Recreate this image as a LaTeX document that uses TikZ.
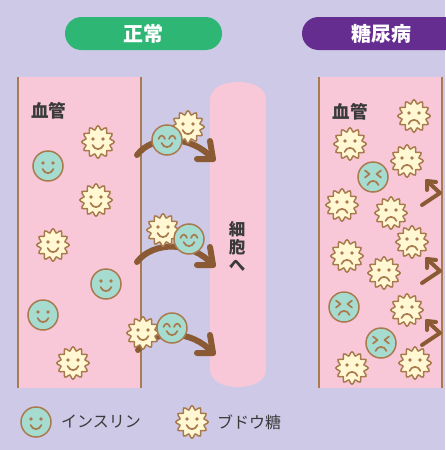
\documentclass[tikz,border=0pt]{standalone}
\usepackage{fontspec}
\newfontfamily\jpfont{Noto Sans CJK JP}
\usetikzlibrary{calc}

\definecolor{bgcol}{HTML}{CDC9E6}
\definecolor{vesselpink}{HTML}{F8C8D8}
\definecolor{wallbrown}{HTML}{A97C50}
\definecolor{arrowbrown}{HTML}{8A5A34}
\definecolor{okgreen}{HTML}{2DB674}
\definecolor{dmpurple}{HTML}{662D91}
\definecolor{insfill}{HTML}{A6DBD0}
\definecolor{sugfill}{HTML}{FFF8D2}
\definecolor{edgebrown}{HTML}{A97A4E}
\definecolor{inkgray}{HTML}{3A3A3A}

\tikzset{
  pill/.style={rounded corners=16.5pt, minimum height=33pt, inner sep=0pt,
    text=white, font=\jpfont\bfseries\fontsize{20}{22}\selectfont},
  label/.style={inner sep=0pt, text=inkgray, font=\jpfont\bfseries\fontsize{17.5}{19}\selectfont},
  legendtext/.style={inner sep=0pt, anchor=west, text=inkgray, font=\jpfont\fontsize{16}{18}\selectfont},
  wall/.style={draw=wallbrown, line width=2.2pt},
  flow/.style={draw=arrowbrown, line width=6pt, line cap=round, line join=round},
  bounce/.style={draw=arrowbrown, line width=4pt, line cap=round, line join=round},
  outline/.style={draw=edgebrown, line width=1.5pt},
  face/.style={draw=edgebrown, line width=1.7pt, line cap=round, line join=round},
  sugarbody/.pic={
    \filldraw[outline, fill=sugfill] plot[smooth cycle, domain=0:355, samples=72]
      (\x:{14.3+1.9*cos(12*\x)});
  },
  insbody/.pic={\filldraw[outline, fill=insfill] (0,0) circle (15);},
  doteyes/.pic={\fill[edgebrown] (-5,-3) circle (1.9) (5,-3) circle (1.9);},
  smile/.pic={\draw[face] (-5.5,3) .. controls (-3,8.5) and (3,8.5) .. (5.5,3);},
  frown/.pic={\draw[face] (-5.5,8) .. controls (-3.5,2.5) and (3.5,2.5) .. (5.5,8);},
  happysugar/.pic={\pic{sugarbody}; \pic{doteyes}; \pic{smile};},
  sadsugar/.pic={\pic{sugarbody}; \pic{doteyes}; \pic{frown};},
  happyins/.pic={\pic{insbody}; \pic{doteyes}; \pic{smile};},
  joyins/.pic={\pic{insbody};
    \draw[face] (-8.5,-1) .. controls (-7,-5.5) and (-3.5,-5.5) .. (-2,-1);
    \draw[face] (2,-1) .. controls (3.5,-5.5) and (7,-5.5) .. (8.5,-1);
    \pic{smile};},
  angryins/.pic={\pic{insbody};
    \draw[face] (-8,-6.5) -- (-3.5,-3) -- (-8,0.5);
    \draw[face] (8,-6.5) -- (3.5,-3) -- (8,0.5);
    \pic{frown};},
}

\begin{document}
\begin{tikzpicture}[x=1pt,y=-1pt]
\useasboundingbox (0,0) rectangle (445,450);
\fill[bgcol] (0,0) rectangle (445,450);

% headings
\node[pill, fill=okgreen, minimum width=157pt] (normaltag) at (143.5,33.5) {正常};
\node[pill, fill=dmpurple, minimum width=160pt] (dmtag) at (382,33.5) {\hspace*{-2pt}糖尿病};

% blood vessels
\fill[vesselpink] (18,77) rectangle (141,388);
\fill[vesselpink] (319,77) rectangle (442,388);
\draw[wall] (18,77) -- (18,388);
\draw[wall] (141,77) -- (141,388);
\draw[wall] (319,77) -- (319,388);
\draw[wall] (442,77) -- (442,388);

% cell
\fill[vesselpink] (210,100) .. controls (210,88) and (223,82) .. (238,82)
  .. controls (253,82) and (266,88) .. (266,100) -- (266,369)
  .. controls (266,381) and (253,387) .. (238,387)
  .. controls (223,387) and (210,381) .. (210,369) -- cycle;
\node[label, font=\jpfont\bfseries\fontsize{16.5}{18}\selectfont, align=center] (cell) at (237,246) {細\\胞\\へ};

\node[label] (vesselA) at (48.5,111) {血管};
\node[label] (vesselB) at (350,112) {血管};

% transport into the cell
\coordinate (a1s) at (137,155); \coordinate (a1t) at (213,159);
\coordinate (a2s) at (137,262); \coordinate (a2t) at (213,265);
\coordinate (a3s) at (138,350); \coordinate (a3t) at (213,353);
\foreach \s/\t in {a1s/a1t, a2s/a2t, a3s/a3t} {
  \draw[flow] (\s) .. controls +(16,-21) and +(-21,-24) .. (\t);
  \draw[flow] ($(\t)+(-16,0)$) -- (\t) -- ($(\t)+(-3,-18)$);
}

% glucose bouncing off the vessel wall
\coordinate (b1s) at (422,205); \coordinate (b1w) at (440,193); \coordinate (b1t) at (427,181);
\coordinate (b2s) at (422,283); \coordinate (b2w) at (440,271); \coordinate (b2t) at (427,259);
\coordinate (b3s) at (422,345); \coordinate (b3w) at (440,333); \coordinate (b3t) at (427,321);
\foreach \s/\w/\t in {b1s/b1w/b1t, b2s/b2w/b2t, b3s/b3w/b3t} {
  \draw[bounce] (\s) -- (\w) -- (\t);
  \draw[bounce] ($(\t)+(9,1)$) -- (\t) -- ($(\t)+(0,9)$);
}

% normal vessel contents
\foreach \p in {(98,142),(96,200),(53,245),(73,363)} \pic at \p {happysugar};
\foreach \p in {(48,166),(106,284),(43,315)} \pic at \p {happyins};

% insulin carrying glucose
\pic at (188,127) {happysugar}; \pic at (167,140) {joyins};
\pic at (163,230) {happysugar}; \pic at (189,239) {joyins};
\pic at (143,333) {happysugar}; \pic at (172,328) {joyins};

% diabetic vessel contents
\foreach \p in {(414,116),(350,144),(407,161),(342,205),(391,213),(412,242),
  (347,256),(384,273),(407,310),(415,363),(352,368)} \pic at \p {sadsugar};
\foreach \p in {(373,177),(344,307),(381,343)} \pic at \p {angryins};

% legend
\pic at (36,422) {happyins};
\node[legendtext] (keyins) at (61,422) {インスリン};
\pic at (192,422) {happysugar};
\node[legendtext] (keysug) at (217,422) {ブドウ糖};
\end{tikzpicture}
\end{document}
